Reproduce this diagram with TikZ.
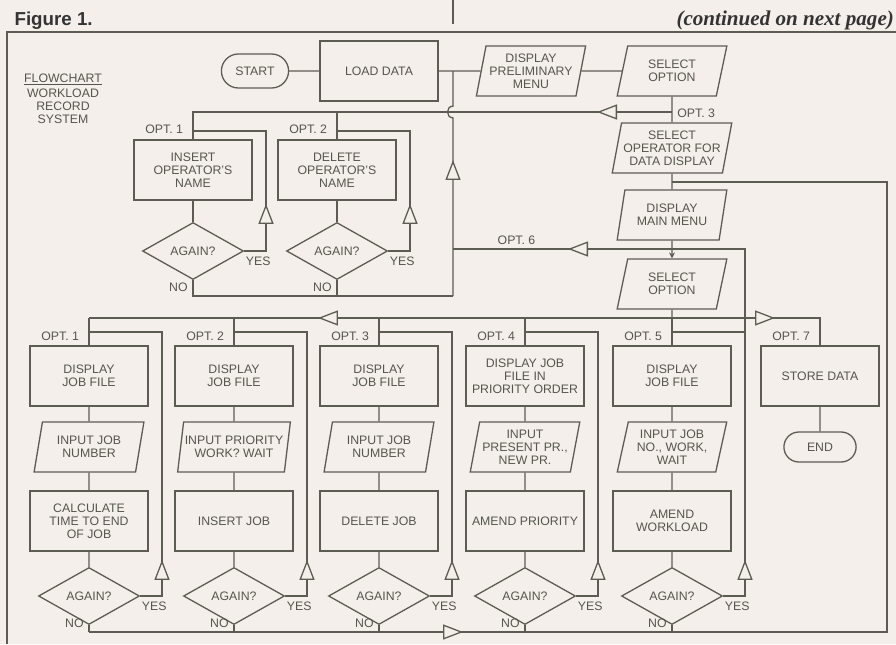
\documentclass[tikz,border=0pt]{standalone}
\usepackage{fontspec}
\setmainfont{Liberation Sans}
\newfontfamily\pageserif{Liberation Serif}
\usetikzlibrary{shapes.geometric, shapes.misc, arrows.meta, decorations.markings}
\definecolor{paper}{HTML}{F4EFEA}
\definecolor{ink}{HTML}{5C5C52}
\definecolor{inktext}{HTML}{55554D}

\tikzset{
  procbox/.style={draw, rectangle, minimum width=3.54cm, minimum height=1.8cm, align=center, inner sep=1pt},
  iobox/.style={draw, trapezium, trapezium left angle=76, trapezium right angle=104,
    trapezium stretches=true, minimum width=3.3cm, minimum height=1.5cm, align=center, inner sep=1pt},
  askbox/.style={draw, diamond, aspect=1.75, minimum width=3.03cm, minimum height=1.71cm, inner sep=0pt},
  termbox/.style={draw, rounded rectangle, minimum width=2.3cm, minimum height=1cm},
  optlbl/.style={left=8pt, inner sep=0pt},
  yeslbl/.style={anchor=north west, inner sep=1pt, yshift=-3.5pt},
  nolbl/.style={anchor=south east, inner sep=1pt, xshift=-3pt, yshift=2pt},
  flowtri/.style={postaction={decorate}, decoration={markings,
    mark=at position #1 with {\arrow{Triangle[length=6mm, width=4.5mm, fill=paper]}}}}
}

\begin{document}
\begin{tikzpicture}[x=0.03cm, y=-0.03cm, color=ink, line width=1.1pt,
    every node/.style={font=\fontsize{10.5}{11}\selectfont, text=inktext}]
  \fill[paper] (0,0) rectangle (896,644);
  \useasboundingbox (0,0) rectangle (896,644);

  % page header and frame
  \node[anchor=base west, text=black!80, font=\fontsize{16}{16}\selectfont\bfseries] (fig) at (10,25) {Figure 1.};
  \node[anchor=base west, text=black!80, font=\pageserif\fontsize{18}{18}\selectfont\bfseries\itshape] (cont) at (672,25) {(continued on next page)};
  \draw (453,0) -- (453,24);
  \draw (896,32) -- (7,32) -- (7,644);

  \node[align=center] (title) at (63,99) {\underline{FLOWCHART}\\[2pt]WORKLOAD\\RECORD\\SYSTEM};

  % top part
  \node[termbox, minimum width=2.25cm, minimum height=1.02cm] (start) at (255,71) {START};
  \node[procbox] (load) at (379,71) {LOAD DATA};
  \node[iobox] (prelim) at (531,71) {DISPLAY\\PRELIMINARY\\MENU};
  \node[iobox] (sel1) at (672,71) {SELECT\\OPTION};
  \node[iobox, minimum width=3.6cm] (selop) at (672,148) {SELECT\\OPERATOR FOR\\DATA DISPLAY};
  \node[iobox] (menu) at (672,215) {DISPLAY\\MAIN MENU};
  \node[iobox] (sel2) at (672,284) {SELECT\\OPTION};

  \node[procbox] (ins) at (193,170) {INSERT\\OPERATOR'S\\NAME};
  \node[procbox] (del) at (337,170) {DELETE\\OPERATOR'S\\NAME};
  \node[askbox] (ag1) at (193,251) {AGAIN?};
  \node[askbox] (ag2) at (337,251) {AGAIN?};

  \coordinate (jA) at (453,71);
  \coordinate (jB) at (672,112);
  \coordinate (jD) at (672,182);
  \coordinate (jC) at (672,249);
  \coordinate (jE) at (672,318);
  \coordinate (hop) at (453,112);
  \coordinate (nb) at (453,296);
  \coordinate (r1) at (266,131);
  \coordinate (r2) at (410,131);
  \coordinate (rb) at (887,632);

  \draw (start) -- (load);
  \draw (load) -- (prelim);
  \draw (prelim) -- (sel1);
  \draw (sel1) -- node[right, pos=0.65, inner sep=4pt] {OPT. 3} (selop);
  \draw[flowtri=2.25cm] (jB) -- (jB -| ins.north) -- node[optlbl, pos=0.63] {OPT. 1} (ins.north);
  \draw (jB -| del.north) -- node[optlbl, pos=0.63] {OPT. 2} (del.north);
  \draw (ins) -- (ag1);
  \draw (del) -- (ag2);
  \draw[flowtri=2.07cm] (ag1.east) node[yeslbl] {YES} -| (r1) -- (r1 -| ins.north);
  \draw[flowtri=2.07cm] (ag2.east) node[yeslbl] {YES} -| (r2) -- (r2 -| del.north);
  \draw (ag1.south) -- (ag1.south |- nb) node[nolbl] {NO} -- (nb);
  \draw (ag2.south) -- (ag2.south |- nb) node[nolbl] {NO};
  \draw[flowtri=4.08cm] (nb) -- ([yshift=-5pt]hop)
    to[out=180, in=180, looseness=1.6] ([yshift=5pt]hop) -- (jA);
  \draw[flowtri=3.12cm] (jC) -- node[above, pos=0.71] {OPT. 6} (jC -| nb);
  \draw (selop) -- (menu);
  \draw[-{Stealth[length=5pt, width=5pt]}] (menu) -- (sel2);
  \draw (sel2) -- (jE);

  % option columns
  \foreach \i/\x/\ta/\tb/\tc in {
      1/89/{DISPLAY\\JOB FILE}/{INPUT JOB\\NUMBER}/{CALCULATE\\TIME TO END\\OF JOB},
      2/234/{DISPLAY\\JOB FILE}/{INPUT PRIORITY\\WORK? WAIT}/{INSERT JOB},
      3/379/{DISPLAY\\JOB FILE}/{INPUT JOB\\NUMBER}/{DELETE JOB},
      4/525/{DISPLAY JOB\\FILE IN\\PRIORITY ORDER}/{INPUT\\PRESENT PR.,\\NEW PR.}/{AMEND PRIORITY},
      5/672/{DISPLAY\\JOB FILE}/{INPUT JOB\\NO., WORK,\\WAIT}/{AMEND\\WORKLOAD}} {
    \node[procbox] (b\i) at (\x,376) {\ta};
    \node[iobox] (io\i) at (\x,447) {\tb};
    \node[procbox] (p\i) at (\x,521) {\tc};
    \node[askbox] (d\i) at (\x,596) {AGAIN?};
    \coordinate (bus\i) at (\x,318);
    \coordinate (lp\i) at (\x+73,332);
    \draw (bus\i) -- node[optlbl, pos=0.68] {OPT. \i} (b\i);
    \draw (b\i) -- (io\i) -- (p\i) -- (d\i);
    \draw[flowtri=1.74cm] (d\i.east) node[yeslbl] {YES} -| (lp\i) -- (lp\i -| b\i.north);
    \draw (d\i.south) -- (d\i.south |- rb) node[nolbl] {NO};
  }
  \draw (lp5) |- (jC);

  \node[procbox] (store) at (820,376) {STORE DATA};
  \node[termbox, minimum width=2.4cm, minimum height=0.9cm] (end) at (820,447) {END};
  \coordinate (bus7) at (820,318);

  \draw[flowtri=10.62cm] (jE) -- (bus1);
  \draw[flowtri=3.09cm] (jE) -- (bus7) -- node[optlbl, pos=0.68] {OPT. 7} (store);
  \draw (store) -- (end);
  \draw[flowtri=11.22cm] (d1.south |- rb) -- (rb) |- (jD);
\end{tikzpicture}
\end{document}
